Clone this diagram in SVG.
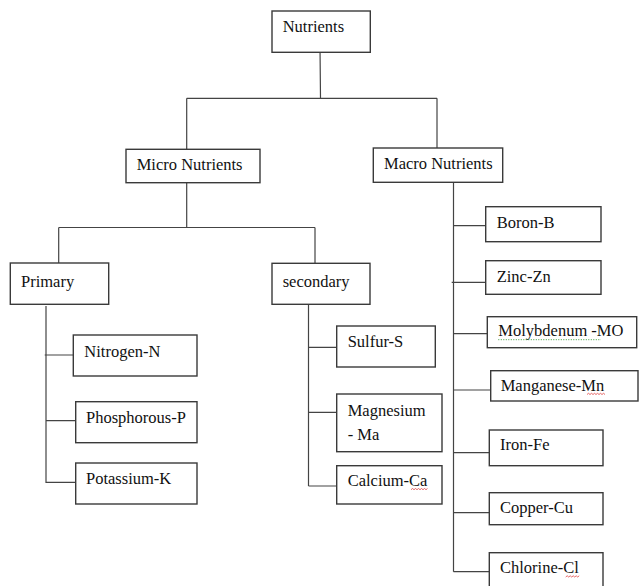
<svg xmlns="http://www.w3.org/2000/svg" width="639" height="586" viewBox="0 0 639 586">
<style>
.box{fill:#fff;stroke:#3a3a3a;stroke-width:1.4}
.t{font-family:"Liberation Serif","Times New Roman",serif;font-size:16.5px;fill:#111}
.c{fill:none;stroke:#444;stroke-width:1.2}
.red{fill:none;stroke:#e04040;stroke-width:0.8}
.grn{fill:none;stroke:#3a9a3a;stroke-width:1;stroke-dasharray:1 1.5}
</style>
<rect width="639" height="586" fill="#fff"/>
<g id="connectors">
<path class="c" d="M320 47 L320.5 98.3 M186.7 98.3 H437 M186.7 98.3 V149.3 M437 98.3 V148"/>
<path class="c" d="M186.7 182.7 V227.5 M58.7 227.5 H315 M58.7 227.5 V263 M315 227.5 V263.3"/>
<path class="c" d="M46 306 V483 M44.7 355 H73.3 M46 420.7 H75.7 M46 482.3 H75.7"/>
<path class="c" d="M308.5 304.3 V486 M308.5 347.3 H336.7 M308.5 412.3 H336.7 M308.5 486 H336.7"/>
<path class="c" d="M453.5 182.3 V571.7 M453.5 225.7 H485.7 M451.7 282.3 H485.7 M453.5 333.7 H487.3 M453.5 390 H490.7 M453.5 452.7 H489.3 M453.5 512.7 H489.3 M453.5 571.7 H489.3"/>
</g>
<g id="nutrients"><rect class="box" x="272" y="11" width="98.3" height="41.3"/><text class="t" x="282.7" y="32.3">Nutrients</text></g>
<g id="micro"><rect class="box" x="126" y="149.3" width="134" height="33.4"/><text class="t" x="136.7" y="170">Micro Nutrients</text></g>
<g id="macro"><rect class="box" x="373.3" y="148" width="129.4" height="34.3"/><text class="t" x="384" y="169.3">Macro Nutrients</text></g>
<g id="primary"><rect class="box" x="10.3" y="263" width="98.4" height="41.3"/><text class="t" x="21" y="286.7">Primary</text></g>
<g id="secondary"><rect class="box" x="272" y="263.3" width="98" height="41"/><text class="t" x="282.7" y="286.7">secondary</text></g>
<g id="nitrogen"><rect class="box" x="73.3" y="335" width="123.7" height="41"/><text class="t" x="84.3" y="356.7">Nitrogen-N</text></g>
<g id="phosphorous"><rect class="box" x="75.7" y="401.7" width="121.3" height="41"/><text class="t" x="86" y="423.3">Phosphorous-P</text></g>
<g id="potassium"><rect class="box" x="75.7" y="463" width="121.3" height="41"/><text class="t" x="86" y="484">Potassium-K</text></g>
<g id="sulfur"><rect class="box" x="336.7" y="326" width="98.6" height="41"/><text class="t" x="347.7" y="346.7">Sulfur-S</text></g>
<g id="magnesium"><rect class="box" x="336.7" y="394" width="105.3" height="57.7"/><text class="t" x="347.7" y="415.7">Magnesium</text><text class="t" x="347.7" y="440">- Ma</text></g>
<g id="calcium"><rect class="box" x="336.7" y="465.7" width="105.3" height="38.3"/><text class="t" x="347.7" y="486">Calcium-Ca</text><path class="red" d="M411 489.7 l1.5 -1.2 l1.5 1.2 l1.5 -1.2 l1.5 1.2 l1.5 -1.2 l1.5 1.2 l1.5 -1.2 l1.5 1.2 l1.5 -1.2 l1.5 1.2 l1.5 -1.2"/></g>
<g id="boron"><rect class="box" x="485.7" y="206.7" width="115.3" height="35"/><text class="t" x="496.7" y="227.7">Boron-B</text></g>
<g id="zinc"><rect class="box" x="485.7" y="260.7" width="115.3" height="33.6"/><text class="t" x="496.7" y="281.7">Zinc-Zn</text></g>
<g id="molybdenum"><rect class="box" x="487.3" y="316.7" width="149.4" height="31"/><text class="t" x="498.3" y="336">Molybdenum -MO</text><path class="grn" d="M498.3 339.7 H601"/></g>
<g id="manganese"><rect class="box" x="490.7" y="370.7" width="147.3" height="30.3"/><text class="t" x="500.7" y="390.7">Manganese-Mn</text><path class="red" d="M587 394.5 l1.5 -1.2 l1.5 1.2 l1.5 -1.2 l1.5 1.2 l1.5 -1.2 l1.5 1.2 l1.5 -1.2 l1.5 1.2 l1.5 -1.2 l1.5 1.2 l1.5 -1.2 l1.5 1.2"/></g>
<g id="iron"><rect class="box" x="489.3" y="430" width="113.7" height="35.7"/><text class="t" x="500" y="450">Iron-Fe</text></g>
<g id="copper"><rect class="box" x="489.3" y="492.7" width="113.7" height="32"/><text class="t" x="500" y="512.7">Copper-Cu</text></g>
<g id="chlorine"><rect class="box" x="489.3" y="552.7" width="113.7" height="40"/><text class="t" x="500" y="573.3">Chlorine-Cl</text><path class="red" d="M565.7 577 l1.5 -1.2 l1.5 1.2 l1.5 -1.2 l1.5 1.2 l1.5 -1.2 l1.5 1.2 l1.5 -1.2 l1.5 1.2 l1.5 -1.2"/></g>
</svg>
